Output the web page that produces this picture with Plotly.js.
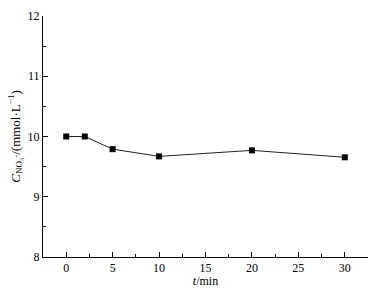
<!DOCTYPE html>
<html><head><meta charset="utf-8">
<script src="https://cdn.plot.ly/plotly-3.0.1.min.js"></script>
<style>body{margin:0;padding:0;background:#fff}#c{width:385px;height:288px}</style>
</head><body><div id="c"></div>
<script>
const timeMin = [0, 2, 5, 10, 20, 30];
const nitrateConc = [10.0, 10.0, 9.79, 9.67, 9.77, 9.655];
const xTicks = [0, 5, 10, 15, 20, 25, 30];
const yTicks = [8, 9, 10, 11, 12];

const font = {family: '"Liberation Serif", "Times New Roman", serif', size: 12, color: '#000'};
const titleFont = {family: '"Liberation Serif", "Times New Roman", serif', size: 13, color: '#000'};
Plotly.newPlot('c', [{
  x: timeMin, y: nitrateConc, type: 'scatter', mode: 'lines+markers',
  line: {color: '#222', width: 1},
  marker: {symbol: 'square', size: 6, color: '#000'}
}], {
  width: 385, height: 288,
  margin: {l: 43, r: 17, t: 16, b: 31},
  paper_bgcolor: '#fff', plot_bgcolor: '#fff',
  font: font, showlegend: false,
  xaxis: {
    range: [-2.5, 32.5], tickvals: xTicks, ticktext: xTicks.map(String),
    ticks: 'inside', ticklen: 5, tickwidth: 1, tickcolor: '#000',
    minor: {dtick: 2.5, ticks: 'inside', ticklen: 3, tickcolor: '#000', tick0: 0},
    showline: true, linecolor: '#000', linewidth: 1, showgrid: false, zeroline: false,
    tickfont: font,
    title: {text: '<i>t</i>/min', font: font, standoff: 0}
  },
  yaxis: {
    range: [8, 12], tickvals: yTicks, ticktext: yTicks.map(String),
    ticks: 'inside', ticklen: 5, tickwidth: 1, tickcolor: '#000',
    minor: {dtick: 0.5, ticks: 'inside', ticklen: 3, tickcolor: '#000'},
    showline: true, linecolor: '#000', linewidth: 1, showgrid: false, zeroline: false,
    tickfont: font,
    title: {text: '<i>C</i><sub>NO₃⁻</sub>/(mmol·L<sup>−1</sup>)', font: titleFont, standoff: 4}
  }
}, {staticPlot: true});
</script></body></html>
